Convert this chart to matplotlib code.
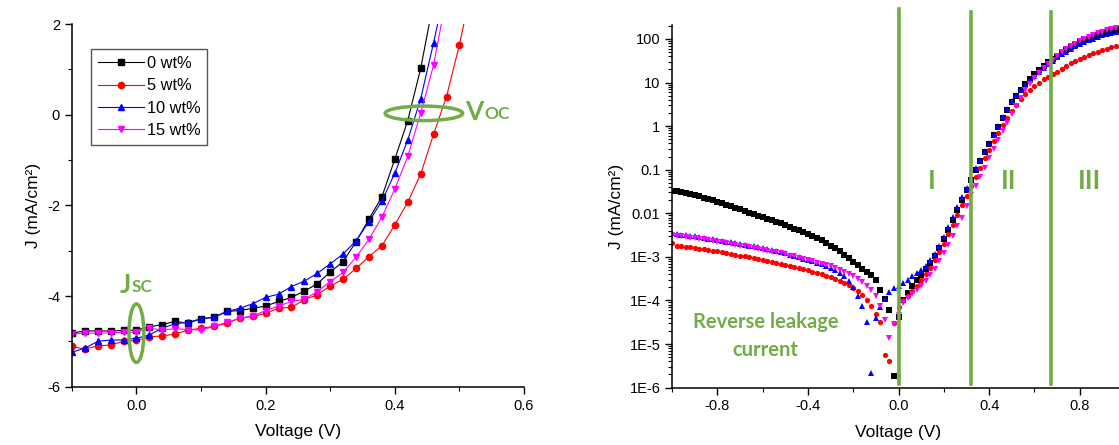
import numpy as np
import matplotlib
matplotlib.use("Agg")
import matplotlib.pyplot as plt
from matplotlib.patches import Ellipse
from matplotlib.ticker import MultipleLocator, LogLocator, NullFormatter, FixedLocator, FixedFormatter

plt.rcParams['font.family'] = ['Liberation Sans', 'DejaVu Sans']
plt.rcParams['axes.unicode_minus'] = False

GREEN = '#70AD47'
ANNOT_FONT = ['Lato', 'DejaVu Sans']

labels = ['0 wt%', '5 wt%', '10 wt%', '15 wt%']
colors = ['black', 'red', 'blue', 'magenta']
markers = ['s', 'o', '^', 'v']

# ---- J-V under illumination (left) ----
v_jv = [-0.10, -0.08, -0.06, -0.04, -0.02, 0.00, 0.02, 0.04, 0.06, 0.08,
        0.10, 0.12, 0.14, 0.16, 0.18, 0.20, 0.22, 0.24, 0.26, 0.28,
        0.30, 0.32, 0.34, 0.36, 0.38, 0.40, 0.42, 0.44, 0.46, 0.48,
        0.50, 0.52]

j_0wt = [-4.82, -4.77, -4.77, -4.77, -4.76, -4.75, -4.68, -4.63, -4.56, -4.60,
         -4.50, -4.47, -4.34, -4.32, -4.27, -4.22, -4.12, -4.03, -3.89, -3.73,
         -3.47, -3.24, -2.80, -2.30, -1.81, -0.98, -0.13, 1.02, 2.50]
j_5wt = [-5.11, -5.17, -5.10, -5.08, -5.00, -4.98, -4.90, -4.88, -4.84, -4.75,
         -4.71, -4.67, -4.60, -4.49, -4.45, -4.38, -4.27, -4.25, -4.08, -3.97,
         -3.78, -3.63, -3.39, -3.13, -2.89, -2.43, -1.93, -1.31, -0.43, 0.40,
         1.54, 2.90]
j_10wt = [-5.24, -5.15, -5.00, -4.97, -4.97, -4.93, -4.86, -4.71, -4.61, -4.58,
          -4.50, -4.47, -4.34, -4.27, -4.17, -4.03, -3.96, -3.79, -3.67, -3.50,
          -3.29, -3.07, -2.78, -2.36, -1.90, -1.29, -0.56, 0.35, 1.59, 2.90]
j_15wt = [-4.84, -4.82, -4.82, -4.81, -4.80, -4.80, -4.71, -4.75, -4.72, -4.74,
          -4.75, -4.67, -4.58, -4.49, -4.44, -4.32, -4.22, -4.12, -4.07, -3.90,
          -3.68, -3.48, -3.14, -2.75, -2.26, -1.64, -0.92, 0.03, 1.10, 2.60]

# ---- dark J-V, log10|J| (right), sweep -1.00 ... 0.98 V in 0.02 V steps ----
v_dark = np.round(np.arange(-1.0, 0.99, 0.02), 2)

logj_0wt = [
    -1.50, -1.50, -1.52, -1.54, -1.56, -1.58, -1.61, -1.64, -1.67, -1.70,
    -1.73, -1.77, -1.80, -1.84, -1.87, -1.91, -1.95, -1.99, -2.02, -2.06,
    -2.09, -2.13, -2.16, -2.20, -2.23, -2.27, -2.31, -2.35, -2.39, -2.43,
    -2.47, -2.52, -2.57, -2.62, -2.68, -2.74, -2.80, -2.87, -2.95, -3.03,
    -3.11, -3.19, -3.27, -3.35, -3.42, -3.53, -3.76, -3.97, -4.22, -5.73,
    -4.38, -4.00, -3.82, -3.68, -3.54, -3.41, -3.28, -3.13, -2.98, -2.80,
    -2.60, -2.38, -2.15, -1.92, -1.69, -1.46, -1.24, -1.01, -0.80, -0.60,
    -0.40, -0.21, -0.01, 0.19, 0.38, 0.55, 0.70, 0.84, 0.97, 1.09,
    1.19, 1.29, 1.38, 1.46, 1.54, 1.62, 1.69, 1.75, 1.81, 1.87,
    1.92, 1.97, 2.01, 2.05, 2.09, 2.12, 2.15, 2.18, 2.20, 2.23]
logj_5wt = [
    -2.68, -2.74, -2.75, -2.77, -2.78, -2.80, -2.81, -2.83, -2.84, -2.86,
    -2.87, -2.89, -2.92, -2.94, -2.96, -2.98, -2.99, -3.01, -3.03, -3.05,
    -3.08, -3.10, -3.12, -3.14, -3.16, -3.18, -3.21, -3.24, -3.26, -3.29,
    -3.31, -3.34, -3.37, -3.40, -3.44, -3.47, -3.51, -3.55, -3.59, -3.65,
    -3.71, -3.79, -3.88, -3.99, -4.13, -4.31, -4.49, -5.25, -5.40, -4.52,
    -4.15, -4.00, -3.90, -3.78, -3.66, -3.53, -3.40, -3.25, -3.08, -2.90,
    -2.70, -2.48, -2.26, -2.04, -1.82, -1.60, -1.38, -1.16, -0.95, -0.74,
    -0.54, -0.35, -0.16, 0.02, 0.19, 0.35, 0.49, 0.62, 0.73, 0.83,
    0.92, 1.00, 1.09, 1.13, 1.19, 1.25, 1.31, 1.38, 1.44, 1.49,
    1.54, 1.59, 1.63, 1.67, 1.71, 1.75, 1.78, 1.81, 1.84, 1.87]
logj_10wt = [
    -2.45, -2.47, -2.49, -2.50, -2.52, -2.53, -2.55, -2.56, -2.58, -2.59,
    -2.61, -2.63, -2.65, -2.66, -2.68, -2.70, -2.72, -2.74, -2.76, -2.78,
    -2.80, -2.82, -2.85, -2.87, -2.90, -2.92, -2.95, -2.98, -3.01, -3.04,
    -3.07, -3.10, -3.13, -3.17, -3.20, -3.25, -3.30, -3.36, -3.45, -3.56,
    -3.70, -3.90, -4.13, -4.49, -5.67, -4.41, -4.15, -3.96, -3.80, -3.72,
    -3.66, -3.60, -3.53, -3.45, -3.38, -3.30, -3.20, -3.07, -2.93, -2.75,
    -2.55, -2.32, -2.09, -1.86, -1.63, -1.41, -1.20, -0.96, -0.77, -0.58,
    -0.38, -0.19, 0.01, 0.22, 0.40, 0.57, 0.71, 0.83, 0.95, 1.06,
    1.16, 1.25, 1.33, 1.42, 1.50, 1.58, 1.65, 1.71, 1.77, 1.83,
    1.88, 1.93, 1.97, 2.01, 2.05, 2.08, 2.11, 2.14, 2.16, 2.18]
logj_15wt = [
    -2.50, -2.51, -2.53, -2.54, -2.56, -2.57, -2.59, -2.60, -2.62, -2.63,
    -2.65, -2.67, -2.69, -2.70, -2.72, -2.74, -2.76, -2.78, -2.80, -2.82,
    -2.84, -2.86, -2.88, -2.90, -2.92, -2.94, -2.97, -2.99, -3.02, -3.04,
    -3.07, -3.10, -3.13, -3.16, -3.19, -3.22, -3.26, -3.30, -3.34, -3.39,
    -3.45, -3.51, -3.58, -3.66, -3.76, -3.89, -4.12, -4.45, -4.87, -4.55,
    -4.33, -4.06, -3.95, -3.85, -3.76, -3.66, -3.55, -3.42, -3.27, -3.10,
    -2.92, -2.72, -2.51, -2.30, -2.10, -1.84, -1.58, -1.37, -1.16, -0.96,
    -0.74, -0.53, -0.32, -0.12, 0.08, 0.28, 0.47, 0.65, 0.82, 0.97,
    1.10, 1.22, 1.33, 1.43, 1.52, 1.61, 1.69, 1.76, 1.83, 1.89,
    1.95, 2.00, 2.05, 2.09, 2.13, 2.17, 2.20, 2.23, 2.26, 2.29]

log_ticks = [100, 10, 1, 0.1, 0.01, 1e-3, 1e-4, 1e-5, 1e-6]
log_tick_labels = ['100', '10', '1', '0.1', '0.01', '1E-3', '1E-4', '1E-5', '1E-6']

region_bounds = [0.0, 0.32, 0.675]
region_names = ['I', 'II', 'III']
region_label_x = [0.147, 0.488, 0.841]

fig = plt.figure(figsize=(11.19, 4.45), dpi=100)
ax1 = fig.add_axes([0.0642, 0.131, 0.4041, 0.815])
ax2 = fig.add_axes([0.6006, 0.129, 0.4048, 0.815])

# left: illuminated J-V
for j, c, m, lab in zip([j_0wt, j_5wt, j_10wt, j_15wt], colors, markers, labels):
    ax1.plot(v_jv[:len(j)], j, color=c, marker=m, markersize=4.5, lw=0.8, label=lab)

ax1.set_xlim(-0.1, 0.6)
ax1.set_ylim(-6, 2)
ax1.xaxis.set_major_locator(MultipleLocator(0.2))
ax1.xaxis.set_minor_locator(MultipleLocator(0.1))
ax1.yaxis.set_major_locator(MultipleLocator(2))
ax1.yaxis.set_minor_locator(MultipleLocator(1))
ax1.xaxis.set_major_formatter(plt.FormatStrFormatter('%.1f'))
ax1.set_xlabel('Voltage (V)', fontsize=12.5, labelpad=8)
ax1.set_ylabel('J (mA/cm²)', fontsize=12.5, labelpad=4)

leg = ax1.legend(loc='upper left', bbox_to_anchor=(0.043, 0.93), borderaxespad=0,
                 fontsize=11.8, handlelength=2.8, handletextpad=0.2,
                 labelspacing=0.45, borderpad=0.4, fancybox=False,
                 edgecolor='#555555', framealpha=1)
leg.get_frame().set_linewidth(1.0)

ax1.add_patch(Ellipse((0.445, 0.03), 0.12, 0.32, fill=False, ec=GREEN, lw=2.5, zorder=5))
ax1.add_patch(Ellipse((0.0, -4.82), 0.023, 1.29, fill=False, ec=GREEN, lw=2.5, zorder=5))

# big letter followed by a smaller subscript-like suffix on the same line
voc = ax1.text(0.509, -0.12, 'V', color=GREEN, fontsize=19, fontweight='bold',
               family=ANNOT_FONT, va='baseline', ha='left')
ax1.annotate('OC', xy=(1, 0), xycoords=voc, xytext=(0.5, 1.2),
             textcoords='offset points', color=GREEN, fontsize=12.5,
             fontweight='bold', family=ANNOT_FONT, va='bottom', ha='left')
jsc = ax1.text(-0.026, -3.93, 'J', color=GREEN, fontsize=19, fontweight='bold',
               family=ANNOT_FONT, va='baseline', ha='left')
ax1.annotate('SC', xy=(1, 0), xycoords=jsc, xytext=(0.5, 1.2),
             textcoords='offset points', color=GREEN, fontsize=12.5,
             fontweight='bold', family=ANNOT_FONT, va='bottom', ha='left')

# right: dark J-V on log scale
for lj, c, m in zip([logj_0wt, logj_5wt, logj_10wt, logj_15wt], colors, markers):
    ax2.plot(v_dark, 10 ** np.array(lj), ls='none', color=c, marker=m,
             markersize=3.8, markeredgewidth=0)

ax2.set_yscale('log')
ax2.set_xlim(-1.0, 1.0)
ax2.set_ylim(1e-6, 210)
ax2.xaxis.set_major_locator(MultipleLocator(0.4))
ax2.xaxis.set_minor_locator(MultipleLocator(0.2))
ax2.xaxis.set_major_formatter(plt.FormatStrFormatter('%.1f'))
ax2.yaxis.set_major_locator(FixedLocator(log_ticks))
ax2.yaxis.set_major_formatter(FixedFormatter(log_tick_labels))
ax2.yaxis.set_minor_locator(LogLocator(base=10, subs=np.arange(2, 10), numticks=100))
ax2.yaxis.set_minor_formatter(NullFormatter())
ax2.set_xlabel('Voltage (V)', fontsize=12.5, labelpad=8)
ax2.set_ylabel('J (mA/cm²)', fontsize=12.5, labelpad=4)

for k, xb in enumerate(region_bounds):
    top = 1.043 if k == 0 else 1.037
    ax2.axvline(xb, ymin=0.01, ymax=top, color=GREEN, lw=2.6, clip_on=False, zorder=6)
for name, xl in zip(region_names, region_label_x):
    ax2.text(xl, 0.055, name, color=GREEN, fontsize=19, fontweight='bold',
             family=ANNOT_FONT, ha='center', va='center')
ax2.text(-0.588, 1.55e-5, 'Reverse leakage\ncurrent', color=GREEN, fontsize=14.5,
         fontweight='bold', family=ANNOT_FONT, ha='center', va='center',
         linespacing=1.5)

for ax in (ax1, ax2):
    ax.spines['top'].set_visible(False)
    ax.spines['right'].set_visible(False)
    for s in ('left', 'bottom'):
        ax.spines[s].set_linewidth(1.1)
    ax.tick_params(which='major', direction='out', length=5, width=1.0,
                   labelsize=10.5, colors='black')
    ax.tick_params(which='minor', direction='out', length=3, width=0.8)

fig.savefig('out.png', dpi=100)
